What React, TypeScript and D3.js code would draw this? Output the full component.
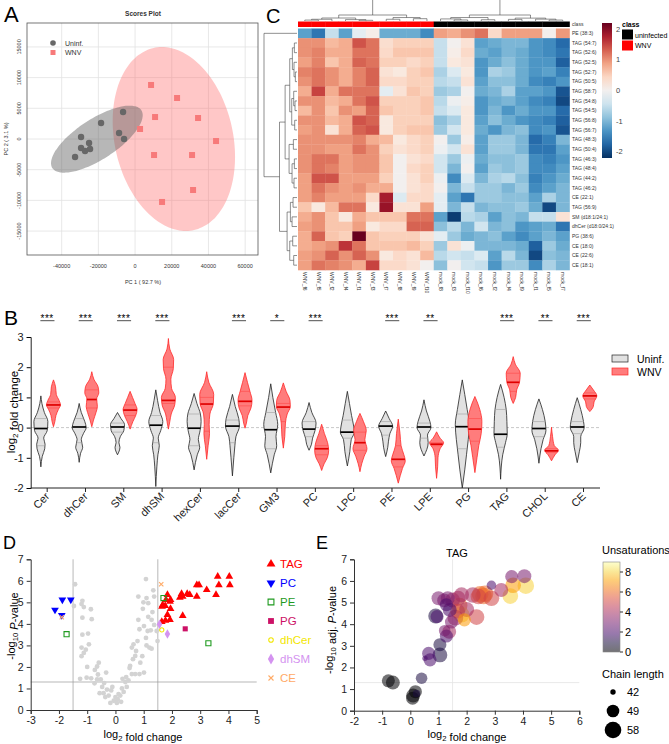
import React, { useEffect, useRef } from "react";
import * as d3 from "d3";

const FONT = "'Liberation Sans', Arial, sans-serif";

// ---------- A: PCA scores ----------
const uninfScores = [
  [-6540, 4400], [-18530, 2600], [-8720, 980], [-5990, 0], [-29430, 330],
  [-25070, -650], [-29430, -1470], [-24520, -1630], [-27250, -1950], [-32700, -2930],
];
const wnvScores = [
  [8720, 8800], [22890, 6680], [10900, 3580], [34330, 3420], [2720, 1630],
  [44140, -330], [10350, -2610], [31060, -2610], [31610, -8310], [14710, -10260],
];
const pcaXTicks = [-40000, -20000, 0, 20000, 40000, 60000];
const pcaYTicks = [15000, 10000, 5000, 0, -5000, -10000, -15000];

// ---------- C: heatmap ----------
const sampleNames = [
  "WNV_f6", "WNV_f5", "WNV_f2", "WNV_f4", "WNV_f1", "WNV_f3", "WNV_f7", "WNV_f8", "WNV_f9", "WNV_f10",
  "mock_f8", "mock_f3", "mock_f10", "mock_f6", "mock_f2", "mock_f4", "mock_f9", "mock_f1", "mock_f5", "mock_f7",
];
const sampleClass = [
  "WNV", "WNV", "WNV", "WNV", "WNV", "WNV", "WNV", "WNV", "WNV", "WNV",
  "uninfected", "uninfected", "uninfected", "uninfected", "uninfected",
  "uninfected", "uninfected", "uninfected", "uninfected", "uninfected",
];
const heatRows = [
  "PE (38:3)", "TAG (54:7)", "TAG (52:6)", "TAG (52:5)", "TAG (52:7)", "TAG (50:5)", "TAG (58:7)",
  "TAG (54:8)", "TAG (54:5)", "TAG (56:8)", "TAG (56:7)", "TAG (48:3)", "TAG (50:4)", "TAG (46:3)",
  "TAG (48:4)", "TAG (44:2)", "TAG (46:2)", "CE (22:1)", "TAG (56:9)", "SM (d18:1/24:1)",
  "dhCer (d18:0/24:1)", "PG (38:6)", "CE (18:0)", "CE (22:6)", "CE (18:1)",
];
const heatValues = [
  [-1.2, -1.6, -0.5, -1.2, -0.2, 0.1, -1.1, -1.1, -1.1, -1.4, 0.9, 0.8, 1.0, 1.2, 0.4, 0.9, 0.9, 0.9, 0.05, 0.95],
  [1.0, 1.0, 0.7, 0.8, 1.4, 1.2, 0.35, 0.5, 0.5, 0.5, -0.5, 0.0, 0.3, -1.2, -1.1, -1.0, -1.0, -1.3, -1.4, -1.7],
  [1.0, 1.1, 0.8, 0.8, 1.2, 1.2, 0.4, 0.6, 0.6, 0.6, -0.5, 0.1, 0.4, -1.1, -1.2, -1.0, -1.1, -1.3, -1.4, -1.6],
  [0.9, 1.1, 0.6, 0.8, 1.3, 1.2, 0.5, 0.5, 0.4, 0.5, -0.5, 0.2, 0.3, -1.3, -1.1, -0.9, -1.1, -1.3, -1.3, -1.8],
  [1.1, 1.2, 1.0, 0.8, 1.1, 1.3, 0.3, 0.2, 0.5, 0.6, -0.7, -0.3, 0.2, -1.3, -0.7, -0.8, -1.1, -1.3, -1.2, -1.5],
  [1.0, 1.2, 1.0, 0.8, 1.1, 1.3, 0.4, 0.4, 0.5, 0.5, -0.6, -0.5, 0.3, -1.2, -0.9, -0.9, -1.1, -1.4, -1.5, -1.3],
  [0.8, 1.5, 0.8, 1.2, 1.2, 1.2, -0.2, 0.3, 0.6, 0.5, -0.8, -0.7, 0.0, -1.1, -1.0, -0.7, -1.2, -1.2, -1.3, -1.9],
  [1.0, 1.0, 0.7, 0.8, 1.2, 1.4, 0.5, 0.5, 0.5, 0.6, -0.6, -0.1, 0.1, -1.3, -1.1, -1.0, -1.2, -1.4, -1.5, -2.0],
  [0.7, 1.0, 0.6, 1.0, 0.9, 1.3, 0.6, 0.5, 0.5, 0.6, -0.5, -0.3, 0.2, -1.3, -1.0, -1.3, -1.1, -1.3, -1.3, -1.7],
  [1.0, 1.0, 0.7, 0.8, 1.4, 1.3, 0.2, 0.5, 0.5, 0.5, -0.9, -0.7, 0.2, -1.2, -0.9, -1.1, -1.3, -1.4, -1.5, -1.8],
  [0.9, 1.0, 0.3, 0.8, 1.3, 1.4, 0.2, 0.5, 0.6, 0.6, -0.8, -0.4, 0.2, -1.1, -1.3, -1.0, -0.9, -1.4, -1.3, -1.9],
  [1.0, 1.0, 1.0, 1.0, 1.1, 0.8, 0.7, 0.2, 0.4, 0.5, 0.0, -0.8, 0.1, -1.2, -0.8, -0.8, -1.0, -1.7, -1.5, -1.0],
  [1.0, 1.0, 0.9, 0.9, 1.2, 1.0, 0.5, 0.3, 0.4, 0.5, -0.1, -0.4, 0.3, -1.2, -0.8, -0.8, -1.0, -1.6, -1.6, -1.2],
  [1.0, 1.2, 1.2, 0.9, 1.0, 1.0, 0.6, 0.0, 0.3, 0.4, -0.4, -0.8, -0.1, -1.1, -0.9, -0.9, -0.8, -1.4, -1.5, -1.3],
  [1.0, 1.2, 1.1, 0.9, 1.0, 1.0, 0.6, 0.0, 0.4, 0.5, -0.4, -1.0, 0.0, -1.2, -0.8, -0.9, -0.8, -1.4, -1.4, -1.2],
  [0.9, 1.4, 1.4, 0.9, 0.9, 0.9, 0.5, 0.0, 0.3, 0.5, -0.1, -1.4, -0.3, -1.0, -0.7, -0.6, -0.9, -1.5, -1.3, -1.1],
  [0.9, 1.2, 1.0, 0.9, 1.0, 0.8, 0.8, 0.0, 0.3, 0.4, 0.0, -1.0, -0.5, -0.8, -0.8, -1.0, -0.8, -1.4, -1.2, -1.0],
  [0.9, 1.1, 0.9, 0.9, 0.9, 0.4, 1.8, -0.3, 0.4, 0.4, -0.2, -1.2, -1.6, -0.8, -0.8, -0.9, -0.9, -1.2, -0.7, -1.0],
  [0.6, 0.2, 0.7, 1.2, 1.2, 0.2, 1.9, 0.3, 0.3, 0.9, -0.2, -1.0, -0.5, -1.0, -0.9, -0.9, -0.8, -1.1, -2.0, -1.0],
  [0.8, 1.0, 0.6, 0.2, 0.8, 0.6, 0.6, 0.6, 1.2, 1.2, -1.2, -2.1, -0.6, -0.7, -1.2, -0.9, -1.0, -0.5, -0.5, 0.3],
  [0.9, 1.0, 0.6, 0.6, 0.9, 0.2, 0.4, 0.4, 1.3, 1.3, -0.9, -0.6, -1.0, -0.4, -1.0, -0.9, -1.3, -1.2, -1.1, -1.6],
  [0.8, 1.3, 0.6, 0.5, 2.2, 0.6, 0.5, 0.5, 0.5, 0.3, -0.2, -0.8, -1.1, -1.0, -0.9, -1.2, -1.4, -1.2, -1.0, -1.2],
  [0.8, 0.9, 1.0, 1.6, 1.2, 0.6, 0.6, 0.6, 0.7, 0.5, -0.8, 0.3, -0.1, -1.0, -1.0, -1.0, -1.1, -1.8, -0.8, -1.1],
  [0.9, 1.0, 1.3, 1.0, 1.3, 1.0, 0.2, 0.4, 0.3, 0.7, -0.6, -0.4, -0.5, -0.3, -1.2, -0.6, -1.0, -2.0, -0.9, -1.0],
  [0.9, 1.2, 1.1, 1.0, 0.8, 1.5, 0.4, 0.4, 0.3, 0.0, -0.9, 0.0, -0.4, -0.5, -1.3, -0.8, -0.8, -1.4, -0.7, -1.0],
];
// clustering trees: [height, left, right], leaves are row / column indices
type Tree = number | [number, Tree, Tree];
const rowTree: Tree = [10, 0, [5.3,
  [3.6,
    [2.2, [1.4, [0.8, 1, 2], [0.9, 3, [0.5, 4, 5]]], [1.6, [1.0, 6, [0.6, 7, 8]], [0.7, 9, 10]]],
    [2.4, [1.1, 11, 12], [1.5, [0.8, 13, 14], [0.9, 15, 16]]]],
  [3.0,
    [2.0, [1.2, 17, 18], [1.5, 19, 20]],
    [2.2, [1.3, 21, 22], [1.0, 23, 24]]]]];
const colTree: Tree = [30,
  [5.2, [2.6, [1.5, [0.8, 0, 1], 2], [1.2, 3, [0.6, 4, 5]]], [3.0, [1.5, 6, 7], [2.0, 8, 9]]],
  [5.2, [3.0, [1.8, 10, [0.9, 11, 12]], [1.1, 13, 14]], [2.5, [1.4, 15, 16], [1.6, 17, [0.8, 18, 19]]]]];

// ---------- B: violins ----------
const lipidClasses = ["Cer", "dhCer", "SM", "dhSM", "hexCer", "lacCer", "GM3", "PC", "LPC", "PE", "LPE", "PG", "TAG", "CHOL", "CE"];
const significance = ["***", "***", "***", "***", "", "***", "*", "***", "", "***", "**", "", "***", "**", "***"];
// density profiles: [log2 FC, relative width]
const uninfProfiles = [
  [[1.05, 0], [0.8, 0.15], [0.5, 0.5], [0.2, 1], [-0.1, 0.9], [-0.35, 0.4], [-0.55, 0.6], [-0.7, 0.55], [-0.95, 0.2], [-1.3, 0]],
  [[0.8, 0], [0.5, 0.3], [0.2, 0.8], [0, 1], [-0.2, 0.6], [-0.4, 0.3], [-0.65, 0.5], [-0.85, 0.2], [-1.15, 0]],
  [[0.5, 0], [0.3, 0.5], [0.1, 1], [-0.1, 0.9], [-0.3, 0.4], [-0.5, 0.2], [-0.65, 0.35], [-0.9, 0]],
  [[1.25, 0], [0.9, 0.25], [0.5, 0.6], [0.2, 1], [-0.1, 0.7], [-0.35, 0.35], [-0.6, 0.5], [-0.9, 0.3], [-1.3, 0.15], [-1.95, 0]],
  [[1.13, 0], [0.8, 0.4], [0.45, 0.9], [0.2, 1], [-0.1, 0.85], [-0.4, 0.6], [-0.65, 0.8], [-0.9, 0.45], [-1.4, 0]],
  [[1.1, 0], [0.7, 0.4], [0.3, 0.9], [0.05, 1], [-0.3, 0.5], [-0.6, 0.35], [-1.0, 0.2], [-1.6, 0]],
  [[1.45, 0], [1.0, 0.3], [0.5, 0.7], [0.1, 1], [-0.3, 0.75], [-0.6, 0.85], [-0.9, 0.5], [-1.5, 0]],
  [[0.83, 0], [0.5, 0.4], [0.15, 1], [-0.1, 0.85], [-0.35, 0.5], [-0.55, 0.35], [-0.75, 0]],
  [[1.2, 0], [0.8, 0.3], [0.4, 0.6], [0.05, 0.9], [-0.15, 1], [-0.4, 0.55], [-0.8, 0.35], [-1.27, 0]],
  [[0.55, 0], [0.3, 0.5], [0.05, 1], [-0.2, 0.6], [-0.45, 0.4], [-0.65, 0.3], [-0.96, 0]],
  [[0.92, 0], [0.55, 0.35], [0.2, 0.85], [0, 1], [-0.25, 0.5], [-0.5, 0.6], [-0.94, 0]],
  [[1.58, 0], [1.1, 0.35], [0.6, 0.7], [0.1, 1], [-0.4, 0.85], [-0.9, 0.6], [-1.4, 0.35], [-2.0, 0]],
  [[1.43, 0], [1.0, 0.5], [0.6, 0.8], [0.2, 0.9], [-0.2, 0.95], [-0.5, 0.7], [-0.9, 0.3], [-1.71, 0]],
  [[0.95, 0], [0.6, 0.5], [0.2, 0.9], [-0.1, 1], [-0.4, 0.6], [-0.7, 0.3], [-1.18, 0]],
  [[0.99, 0], [0.6, 0.5], [0.2, 0.9], [0, 1], [-0.3, 0.5], [-0.5, 0.5], [-0.8, 0.3], [-1.16, 0]],
];
const uninfMedians = [-0.03, 0.02, 0.02, 0.08, -0.02, 0.05, -0.07, -0.05, -0.15, 0.05, 0.02, 0.03, -0.22, -0.03, 0.02];
const uninfQuartiles = [[0.3, -0.6], [0.3, -0.5], [0.15, -0.15], [0.4, -0.5], [0.45, -0.6], [0.25, -0.5], [0.5, -0.7], [0.2, -0.3],
  [0.25, -0.35], [0.2, -0.25], [0.15, -0.35], [0.45, -0.7], [0.6, -0.65], [0.2, -0.3], [0.2, -0.2]];
const wnvProfiles = [
  [[1.58, 0], [1.35, 0.3], [1.1, 0.4], [0.9, 0.8], [0.75, 1], [0.6, 0.7], [0.4, 0.35], [0.2, 0.2], [0.03, 0]],
  [[1.85, 0], [1.6, 0.3], [1.35, 0.9], [1.15, 1], [0.95, 0.7], [0.7, 0.8], [0.5, 0.6], [0.25, 0.25], [0.03, 0]],
  [[1.2, 0], [1.0, 0.35], [0.8, 0.7], [0.6, 1], [0.4, 0.8], [0.2, 0.4], [-0.05, 0]],
  [[2.95, 0], [2.6, 0.2], [2.25, 0.75], [1.95, 0.7], [1.6, 0.35], [1.3, 0.45], [1.0, 1], [0.75, 0.9], [0.45, 0.4], [0.2, 0.2], [-0.05, 0]],
  [[1.85, 0], [1.5, 0.3], [1.1, 1], [0.8, 0.95], [0.45, 0.45], [0.1, 0.35], [-0.2, 0.4], [-0.6, 0.2], [-1.05, 0]],
  [[1.82, 0], [1.5, 0.35], [1.2, 0.7], [0.9, 1], [0.65, 0.85], [0.4, 0.4], [0.15, 0.2], [-0.02, 0]],
  [[1.48, 0], [1.2, 0.4], [0.9, 0.95], [0.7, 1], [0.45, 0.55], [0.15, 0.3], [-0.3, 0.2], [-0.68, 0]],
  [[0.11, 0], [-0.2, 0.4], [-0.5, 0.85], [-0.75, 1], [-1.0, 0.8], [-1.2, 0.35], [-1.42, 0]],
  [[0.47, 0], [0.2, 0.5], [-0.1, 0.9], [-0.4, 0.7], [-0.7, 1], [-0.95, 0.6], [-1.2, 0.25], [-1.46, 0]],
  [[0.28, 0], [-0.2, 0.25], [-0.6, 0.4], [-0.9, 0.8], [-1.1, 1], [-1.35, 0.6], [-1.84, 0]],
  [[-0.14, 0], [-0.35, 0.5], [-0.5, 1], [-0.7, 0.5], [-1.0, 0.2], [-1.3, 0.15], [-1.68, 0]],
  [[1.03, 0], [0.6, 0.7], [0.2, 1], [-0.2, 0.9], [-0.6, 0.55], [-1.0, 0.3], [-1.49, 0]],
  [[2.35, 0], [2.1, 0.3], [1.8, 1], [1.5, 0.9], [1.25, 0.5], [1.0, 0.35], [0.8, 0]],
  [[0.01, 0], [-0.3, 0.15], [-0.6, 0.4], [-0.75, 1], [-0.9, 0.5], [-1.1, 0]],
  [[1.41, 0], [1.25, 0.5], [1.05, 1], [0.85, 0.6], [0.7, 0.5], [0.53, 0]],
];
const wnvMedians = [0.75, 0.93, 0.58, 0.9, 0.78, 0.87, 0.68, -0.7, -0.5, -1.05, -0.55, -0.05, 1.5, -0.77, 1.05];
const wnvQuartiles = [[0.85, 0.65], [1.25, 0.65], [0.75, 0.4], [2.0, 0.8], [1.0, -0.12], [1.2, 0.72], [0.8, 0.2], [-0.6, -0.9],
  [-0.15, -0.75], [-0.6, -1.3], [-0.5, -0.6], [0.3, -0.45], [1.8, 1.2], [-0.7, -0.82], [1.15, 0.95]];

// ---------- D: volcano ----------
const otherVolcano = [
  [-1.43, 5.84], [-1.47, 4.83], [-1.17, 5.07], [-1.2, 4.92], [-1.12, 4.78], [-0.87, 4.68], [-1.17, 4.29], [-0.84, 4.22],
  [-1.17, 3.5], [-0.97, 3.55], [-1.2, 2.9], [-0.94, 3.05], [-1.12, 2.65], [-1.2, 2.5], [-1.05, 2.8], [-0.59, 2.2],
  [-0.65, 2.02], [-0.73, 1.86], [-1.02, 1.5], [-0.86, 1.47], [-0.65, 1.42], [-0.74, 1.24], [-0.52, 1.42], [-0.33, 1.74],
  [-0.47, 1.07], [-0.3, 0.95], [-0.42, 0.78], [-0.15, 0.91], [-0.24, 0.67], [0.0, 0.6], [-0.06, 0.43], [0.08, 0.5],
  [-0.18, 0.33], [0.17, 0.67], [0.29, 0.84], [0.23, 1.0], [0.4, 1.07], [0.46, 1.38], [0.38, 1.53], [0.35, 1.3],
  [0.58, 1.67], [0.52, 2.05], [0.7, 1.67], [0.62, 2.36], [0.7, 2.51], [0.58, 2.9], [0.64, 3.05], [0.78, 3.2],
  [0.73, 2.74], [0.88, 2.2], [1.01, 1.74], [0.85, 1.67], [1.1, 3.0], [1.2, 2.9], [1.28, 2.85], [1.08, 3.35],
  [1.14, 3.67], [1.01, 3.9], [0.85, 3.75], [0.81, 4.19], [0.97, 4.7], [0.99, 5.0], [1.1, 5.2], [1.16, 4.96],
  [1.08, 6.08], [1.34, 5.56], [1.37, 5.27], [1.16, 4.33], [1.28, 4.19], [1.31, 4.55], [1.37, 3.95], [0.81, 5.27],
  [1.46, 3.67], [1.49, 3.2], [-0.56, 0.78], [-0.36, 0.6], [0.05, 0.33], [0.2, 0.38], [0.11, 0.74], [-0.11, 1.07],
  [-0.62, 1.65], [-0.4, 1.25], [0.25, 1.45], [0.5, 1.95], [0.95, 2.5], [1.25, 3.7], [-1.25, 1.45], [-1.0, 2.0],
];
const tagVolcano = [
  [3.62, 6.2], [4.03, 6.2], [3.66, 5.81], [4.05, 5.81], [2.88, 5.81], [2.96, 5.81], [3.23, 5.58], [3.56, 5.35],
  [2.88, 5.27], [2.34, 5.4], [2.38, 5.27], [2.28, 5.22], [2.54, 5.4], [2.63, 5.35], [1.84, 5.35], [1.79, 5.12],
  [1.93, 5.04], [1.95, 5.12], [1.67, 4.88], [1.76, 4.84], [1.65, 4.81], [1.95, 4.7], [1.84, 4.42], [1.93, 4.19],
  [1.77, 4.16], [2.38, 4.38], [1.64, 4.1],
];
const pcVolcano = [[-2.14, 4.65], [-1.88, 5.12], [-1.58, 5.12], [-1.9, 4.4]];
const peVolcano = [[-1.73, 3.52], [3.29, 3.1], [1.7, 5.2]];
const pgVolcano = [[2.47, 3.77]];
const dhCerVolcano = [[1.64, 3.72]];
const dhSMVolcano = [[1.56, 3.98], [1.84, 3.53]];
const ceVolcano = [[1.62, 5.84], [-1.9, 4.31]];

// ---------- E: TAG bubbles ----------
const bubbleFold = [-0.78, -0.62, 0.4, 0.18, 0.1, 0.08, 0.22, 1.05, 1.05, 0.65, 0.7, 0.52, 0.9, 0.95, 1.0, 1.28, 1.33, 1.5, 1.4, 1.46,
  1.38, 1.28, 1.22, 1.7, 1.82, 1.75, 1.68, 1.82, 1.92, 2.0, 2.35, 2.22, 2.42, 2.48, 2.6, 2.65, 2.88, 2.88, 3.23, 3.55, 3.6, 3.65,
  4.05, 4.1, 1.2, 1.6];
const bubbleLogP = [1.38, 1.3, 1.5, 0.88, 0.7, 0.58, 0.8, 2.58, 3.05, 2.65, 2.35, 2.42, 4.38, 4.35, 5.2, 4.9, 5.2, 5.12, 4.66, 4.1,
  3.65, 3.45, 3.7, 5.2, 5.36, 4.86, 4.6, 4.44, 4.2, 4.68, 4.33, 5.35, 5.28, 5.38, 5.3, 5.4, 5.2, 5.8, 5.58, 5.3, 6.2, 5.8,
  6.22, 5.78, 5.1, 4.3];
const bubbleChain = [50, 52, 48, 50, 52, 50, 44, 54, 50, 50, 50, 42, 54, 50, 52, 50, 52, 54, 52, 50,
  52, 50, 48, 54, 54, 56, 54, 56, 50, 54, 56, 56, 56, 58, 58, 58, 56, 46, 52, 56, 50, 56,
  52, 58, 52, 56];
const bubbleUnsat = [0, 0, 1, 0, 0, 0, 1, 1, 1, 2, 2, 2, 1, 2, 3, 2, 3, 4, 2, 3,
  4, 2, 3, 4, 4, 6, 5, 8, 7, 4, 5, 4, 5, 6, 6, 6, 5, 2, 4, 8, 3, 7,
  3, 8, 3, 4];
const chainLegend = [42, 49, 58];
const unsatTicks = [0, 2, 4, 6, 8];

type G = d3.Selection<SVGGElement, unknown, null, undefined>;

function panelLetter(g: G, x: number, y: number, t: string, size: number) {
  g.append("text").attr("x", x).attr("y", y).attr("font-size", size).attr("font-family", FONT).text(t);
}

// text with a log10 subscript, optional italic P
function logLabel(g: G, x: number, y: number, rotate: boolean, parts: string[], size: number) {
  const t = g.append("text").attr("font-family", FONT).attr("font-size", size).attr("text-anchor", "middle")
    .attr("transform", `translate(${x},${y})${rotate ? " rotate(-90)" : ""}`);
  parts.forEach((p) => {
    if (p.startsWith("_")) {
      t.append("tspan").attr("font-size", size * 0.7).attr("dy", size * 0.3).text(p.slice(1));
      t.append("tspan").attr("dy", -size * 0.3).text("");
    } else if (p.startsWith("!")) {
      t.append("tspan").attr("font-style", "italic").text(p.slice(1));
    } else {
      t.append("tspan").text(p);
    }
  });
}

function confEllipse(pts: number[][]) {
  const n = pts.length;
  const mx = d3.mean(pts, (p) => p[0])!;
  const my = d3.mean(pts, (p) => p[1])!;
  let sxx = 0, syy = 0, sxy = 0;
  pts.forEach(([px, py]) => {
    sxx += (px - mx) ** 2;
    syy += (py - my) ** 2;
    sxy += (px - mx) * (py - my);
  });
  sxx /= n - 1; syy /= n - 1; sxy /= n - 1;
  const tr = sxx + syy, det = sxx * syy - sxy * sxy;
  const disc = Math.sqrt(tr * tr / 4 - det);
  const l1 = tr / 2 + disc, l2 = tr / 2 - disc;
  const th = 0.5 * Math.atan2(2 * sxy, sxx - syy);
  const k = Math.sqrt(5.991); // 95% region
  return d3.range(0, 360, 4).map((deg) => {
    const t = (deg * Math.PI) / 180;
    const a = k * Math.sqrt(l1) * Math.cos(t), b = k * Math.sqrt(l2) * Math.sin(t);
    return [mx + a * Math.cos(th) - b * Math.sin(th), my + a * Math.sin(th) + b * Math.cos(th)];
  });
}

function drawScores(g: G) {
  const x = d3.scaleLinear().domain([-58900, 67000]).range([27, 258]);
  const y = d3.scaleLinear().domain([-18900, 18900]).range([255, 23]);
  panelLetter(g, 4, 22, "A", 22);
  g.append("text").attr("x", 143).attr("y", 16).attr("text-anchor", "middle").attr("font-size", 6.5)
    .attr("font-weight", "bold").attr("font-family", FONT).attr("fill", "#333").text("Scores Plot");

  g.selectAll(".gx").data(pcaXTicks).join("line").attr("x1", (d) => x(d)).attr("x2", (d) => x(d))
    .attr("y1", 23).attr("y2", 255).attr("stroke", "#e2e2e2").attr("stroke-width", 0.8);
  g.selectAll(".gy").data(pcaYTicks).join("line").attr("y1", (d) => y(d)).attr("y2", (d) => y(d))
    .attr("x1", 27).attr("x2", 258).attr("stroke", "#e2e2e2").attr("stroke-width", 0.8);

  const line = d3.line<number[]>().x((d) => x(d[0])).y((d) => y(d[1])).curve(d3.curveCardinalClosed);
  g.append("path").attr("d", line(confEllipse(wnvScores))).attr("fill", "rgba(255,100,100,0.36)");
  g.append("path").attr("d", line(confEllipse(uninfScores))).attr("fill", "rgba(95,95,95,0.45)");

  g.selectAll(".pu").data(uninfScores).join("circle").attr("cx", (d) => x(d[0])).attr("cy", (d) => y(d[1]))
    .attr("r", 3.2).attr("fill", "#676767");
  g.selectAll(".pw").data(wnvScores).join("rect").attr("x", (d) => x(d[0]) - 3).attr("y", (d) => y(d[1]) - 3)
    .attr("width", 6).attr("height", 6).attr("fill", "#f77a7a");

  g.append("rect").attr("x", 27).attr("y", 23).attr("width", 231).attr("height", 232)
    .attr("fill", "none").attr("stroke", "#555").attr("stroke-width", 0.8);

  g.selectAll(".tx").data(pcaXTicks).join("text").attr("x", (d) => x(d)).attr("y", 268).attr("text-anchor", "middle")
    .attr("font-size", 5.5).attr("font-family", FONT).attr("fill", "#333").text((d) => String(d));
  g.selectAll(".ty").data(pcaYTicks).join("text").attr("text-anchor", "middle")
    .attr("transform", (d) => `translate(21,${y(d)}) rotate(-90)`)
    .attr("font-size", 5.5).attr("font-family", FONT).attr("fill", "#333").text((d) => String(d));
  g.append("text").attr("x", 143).attr("y", 284).attr("text-anchor", "middle").attr("font-size", 5.5)
    .attr("font-family", FONT).attr("fill", "#333").text("PC 1 ( 92.7 %)");
  g.append("text").attr("transform", `translate(8,${y(0)}) rotate(-90)`).attr("text-anchor", "middle")
    .attr("font-size", 5.5).attr("font-family", FONT).attr("fill", "#333").text("PC 2 ( 3.1 %)");

  g.append("circle").attr("cx", 53).attr("cy", 43).attr("r", 2.8).attr("fill", "#676767");
  g.append("rect").attr("x", 50.5).attr("y", 50).attr("width", 5).attr("height", 5).attr("fill", "#f77a7a");
  g.append("text").attr("x", 65).attr("y", 45.5).attr("font-size", 7).attr("font-family", FONT).attr("fill", "#333").text("Uninf.");
  g.append("text").attr("x", 65).attr("y", 55).attr("font-size", 7).attr("font-family", FONT).attr("fill", "#333").text("WNV");
}

function dendro(tree: Tree, leafPos: (i: number) => number) {
  const segs: [number, number, number, number][] = [];
  const walk = (n: Tree): { p: number; h: number } => {
    if (typeof n === "number") return { p: leafPos(n), h: 0 };
    const [h, a, b] = n;
    const A = walk(a), B = walk(b);
    segs.push([A.p, A.h, A.p, h], [B.p, B.h, B.p, h], [A.p, h, B.p, h]);
    return { p: (A.p + B.p) / 2, h };
  };
  walk(tree);
  return segs;
}

function drawHeatmap(g: G) {
  const x = d3.scaleBand<number>().domain(d3.range(sampleNames.length)).range([298, 569.5]);
  const y = d3.scaleBand<number>().domain(d3.range(heatRows.length)).range([28.5, 270]);
  const color = d3.scaleSequential(d3.interpolateRdBu).domain([2.2, -2.2]);
  panelLetter(g, 266, 23, "C", 20);

  heatValues.forEach((row, r) => {
    g.selectAll(`.c${r}`).data(row).join("rect").attr("x", (_, c) => x(c)!).attr("y", y(r)!)
      .attr("width", x.bandwidth() + 0.3).attr("height", y.bandwidth() + 0.3).attr("fill", (d) => color(d));
  });
  g.selectAll(".cls").data(sampleClass).join("rect").attr("x", (_, c) => x(c)!).attr("y", 21.5)
    .attr("width", x.bandwidth() + 0.3).attr("height", 5.5).attr("fill", (d) => (d === "WNV" ? "#ff0000" : "#000"));

  const lab = { "font-size": 5, "font-family": FONT, fill: "#333" };
  g.append("text").attr("x", 572).attr("y", 26).attr("font-size", 5).attr("font-family", FONT).attr("fill", "#333").text("class");
  g.selectAll(".rl").data(heatRows).join("text").attr("x", 572).attr("y", (_, i) => y(i)! + y.bandwidth() / 2 + 1.8)
    .attr("font-size", lab["font-size"]).attr("font-family", FONT).attr("fill", lab.fill).text((d) => d);
  g.selectAll(".cl").data(sampleNames).join("text")
    .attr("transform", (_, i) => `translate(${x(i)! + x.bandwidth() / 2 - 1.8},272) rotate(90)`)
    .attr("font-size", 5).attr("font-family", FONT).attr("fill", "#333").text((d) => d);

  // row dendrogram on the left
  const hx = d3.scaleLinear().domain([0, 10]).range([297, 264]);
  const rseg = dendro(rowTree, (i) => y(i)! + y.bandwidth() / 2);
  g.selectAll(".rd").data(rseg).join("line").attr("x1", (s) => hx(s[1])).attr("y1", (s) => s[0])
    .attr("x2", (s) => hx(s[3])).attr("y2", (s) => s[2]).attr("stroke", "#444").attr("stroke-width", 0.6);
  // column dendrogram on top
  const hy = d3.scaleLinear().domain([0, 5.2]).range([21, 15]);
  const cseg = dendro(colTree, (i) => x(i)! + x.bandwidth() / 2);
  g.selectAll(".cd").data(cseg).join("line").attr("x1", (s) => s[0]).attr("y1", (s) => hy(s[1]))
    .attr("x2", (s) => s[2]).attr("y2", (s) => hy(s[3])).attr("stroke", "#444").attr("stroke-width", 0.6);

  // colour key
  const ky = d3.scaleLinear().domain([2.2, -2.2]).range([23, 158]);
  const defs = g.append("defs");
  const grad = defs.append("linearGradient").attr("id", "heatkey").attr("x1", 0).attr("x2", 0).attr("y1", 0).attr("y2", 1);
  d3.range(0, 1.0001, 0.1).forEach((t) => {
    grad.append("stop").attr("offset", t).attr("stop-color", color(2.2 - 4.4 * t));
  });
  g.append("rect").attr("x", 602).attr("y", 23).attr("width", 10).attr("height", 135).attr("fill", "url(#heatkey)");
  g.selectAll(".kt").data([2, 1, 0, -1, -2]).join("text").attr("x", 616).attr("y", (d) => ky(d) + 2.5)
    .attr("font-size", 7.5).attr("font-family", FONT).attr("fill", "#444").text((d) => String(d));

  g.append("text").attr("x", 622).attr("y", 27).attr("font-size", 7).attr("font-weight", "bold")
    .attr("font-family", FONT).text("class");
  g.append("rect").attr("x", 622).attr("y", 29.5).attr("width", 11).attr("height", 10).attr("fill", "#000");
  g.append("rect").attr("x", 622).attr("y", 40.5).attr("width", 11).attr("height", 10).attr("fill", "#ff0000");
  g.append("text").attr("x", 635).attr("y", 37.5).attr("font-size", 7).attr("font-family", FONT).text("uninfected");
  g.append("text").attr("x", 635).attr("y", 48).attr("font-size", 7).attr("font-family", FONT).text("WNV");
}

function widthAt(profile: number[][], v: number) {
  for (let i = 0; i < profile.length - 1; i++) {
    const [v0, w0] = profile[i], [v1, w1] = profile[i + 1];
    if (v <= v0 && v >= v1) return w0 + ((v0 - v) / (v0 - v1)) * (w1 - w0);
  }
  return 0;
}

function drawViolins(g: G) {
  const y = d3.scaleLinear().domain([-2, 3]).range([488, 337]);
  const x = d3.scalePoint<string>().domain(lipidClasses).range([30.7, 600]).padding(0.43);
  const maxW = 7, off = 6.3;
  panelLetter(g, 4, 325, "B", 21);

  g.append("line").attr("x1", 31).attr("x2", 600).attr("y1", y(0)).attr("y2", y(0))
    .attr("stroke", "#c8c8c8").attr("stroke-width", 1).attr("stroke-dasharray", "3,2");

  const groups = [
    { prof: uninfProfiles, med: uninfMedians, q: uninfQuartiles, dx: -off, fill: "#e1e1e1", stroke: "#222", mc: "#000", qc: "#a0a0a0" },
    { prof: wnvProfiles, med: wnvMedians, q: wnvQuartiles, dx: off, fill: "#ff7c7c", stroke: "#ff2a2a", mc: "#e00000", qc: "#ff4a4a" },
  ];
  groups.forEach((gr) => {
    lipidClasses.forEach((cls, i) => {
      const cx = x(cls)! + gr.dx;
      const prof = gr.prof[i];
      const area = d3.area<number[]>().y((d) => y(d[0])).x0((d) => cx - d[1] * maxW).x1((d) => cx + d[1] * maxW)
        .curve(d3.curveMonotoneY);
      g.append("path").attr("d", area(prof)).attr("fill", gr.fill).attr("stroke", gr.stroke).attr("stroke-width", 0.8);
      gr.q[i].forEach((qv) => {
        const w = widthAt(prof, qv) * maxW;
        g.append("line").attr("x1", cx - w).attr("x2", cx + w).attr("y1", y(qv)).attr("y2", y(qv))
          .attr("stroke", gr.qc).attr("stroke-width", 0.6);
      });
      const wm = widthAt(prof, gr.med[i]) * maxW;
      g.append("line").attr("x1", cx - wm).attr("x2", cx + wm).attr("y1", y(gr.med[i])).attr("y2", y(gr.med[i]))
        .attr("stroke", gr.mc).attr("stroke-width", 1.7);
    });
  });

  // significance marks
  lipidClasses.forEach((cls, i) => {
    if (!significance[i]) return;
    const cx = x(cls)!;
    g.append("line").attr("x1", cx - off - 0.5).attr("x2", cx + off + 1).attr("y1", 320.7).attr("y2", 320.7)
      .attr("stroke", "#222").attr("stroke-width", 0.8);
    g.append("text").attr("x", cx).attr("y", 322).attr("text-anchor", "middle").attr("font-size", 10)
      .attr("font-family", FONT).attr("letter-spacing", 0.5).text(significance[i]);
  });

  const ay = g.append("g").attr("transform", "translate(30.7,0)")
    .call(d3.axisLeft(y).tickValues([-2, -1, 0, 1, 2, 3]).tickSize(4).tickFormat((d) => String(d)));
  ay.selectAll("text").attr("font-size", 11).attr("font-family", FONT).attr("fill", "#222");
  ay.select(".domain").attr("stroke", "#222");

  g.append("line").attr("x1", 30.7).attr("x2", 600).attr("y1", 488).attr("y2", 488).attr("stroke", "#222");
  lipidClasses.forEach((cls) => {
    const cx = x(cls)!;
    g.append("line").attr("x1", cx).attr("x2", cx).attr("y1", 488).attr("y2", 492).attr("stroke", "#222");
    g.append("text").attr("text-anchor", "end").attr("transform", `translate(${cx + 3},${497}) rotate(-45)`)
      .attr("font-size", 11).attr("font-family", FONT).attr("fill", "#222").text(cls);
  });

  logLabel(g, 15, 412, true, ["log", "_2", " fold change"], 11.5);

  g.append("rect").attr("x", 612).attr("y", 355).attr("width", 16).attr("height", 7).attr("fill", "#e1e1e1").attr("stroke", "#222").attr("stroke-width", 0.7);
  g.append("rect").attr("x", 612).attr("y", 368).attr("width", 16).attr("height", 7).attr("fill", "#ff7c7c").attr("stroke", "#ff2a2a").attr("stroke-width", 0.7);
  g.append("text").attr("x", 637).attr("y", 363).attr("font-size", 10.5).attr("font-family", FONT).text("Uninf.");
  g.append("text").attr("x", 637).attr("y", 376).attr("font-size", 10.5).attr("font-family", FONT).text("WNV");
}

function styleAxis(a: G) {
  a.selectAll("text").attr("font-size", 10.5).attr("font-family", FONT).attr("fill", "#222");
  a.select(".domain").attr("stroke", "#333");
  a.selectAll(".tick line").attr("stroke", "#333");
}

function drawVolcano(g: G) {
  const x = d3.scaleLinear().domain([-3, 5]).range([30.7, 256.7]);
  const y = d3.scaleLinear().domain([0, 7]).range([710, 559.3]);
  panelLetter(g, 3, 549, "D", 18);

  [-1.5, 1.5].forEach((v) => g.append("line").attr("x1", x(v)).attr("x2", x(v)).attr("y1", y(0)).attr("y2", y(7))
    .attr("stroke", "#999").attr("stroke-width", 0.7));
  g.append("line").attr("x1", x(-3)).attr("x2", x(5)).attr("y1", y(1.3)).attr("y2", y(1.3))
    .attr("stroke", "#999").attr("stroke-width", 0.7);

  g.selectAll(".ov").data(otherVolcano).join("circle").attr("cx", (d) => x(d[0])).attr("cy", (d) => y(d[1]))
    .attr("r", 2.4).attr("fill", "#d3d3d3");

  const sets = [
    { name: "TAG", pts: tagVolcano, color: "#ff0000", sym: d3.symbolTriangle, rot: 0, open: false },
    { name: "PC", pts: pcVolcano, color: "#0000ff", sym: d3.symbolTriangle, rot: 180, open: false },
    { name: "PE", pts: peVolcano, color: "#1f9a1f", sym: d3.symbolSquare, rot: 0, open: true },
    { name: "PG", pts: pgVolcano, color: "#cc1166", sym: d3.symbolSquare, rot: 0, open: false },
    { name: "dhCer", pts: dhCerVolcano, color: "#f2e600", sym: d3.symbolCircle, rot: 0, open: true },
    { name: "dhSM", pts: dhSMVolcano, color: "#d493f0", sym: d3.symbolDiamond, rot: 0, open: false },
    { name: "CE", pts: ceVolcano, color: "#ffaa66", sym: d3.symbolTimes, rot: 0, open: true },
  ];
  const mark = (sel: d3.Selection<any, any, any, any>, s: (typeof sets)[0], size: number) => {
    const open = s.open;
    sel.attr("d", d3.symbol(s.sym, size)()!).attr("fill", open ? "none" : s.color)
      .attr("stroke", open ? s.color : "none").attr("stroke-width", open ? 1.1 : 0);
  };
  sets.forEach((s) => {
    s.pts.forEach((p) => {
      const path = g.append("path").attr("transform", `translate(${x(p[0])},${y(p[1])}) rotate(${s.rot})`);
      mark(path, s, s.sym === d3.symbolCircle ? 14 : s.sym === d3.symbolTimes ? 14 : 26);
    });
  });
  sets.forEach((s, i) => {
    const ly = 564 + i * 19;
    const path = g.append("path").attr("transform", `translate(271,${ly}) rotate(${s.rot})`);
    mark(path, s, s.sym === d3.symbolCircle ? 16 : s.sym === d3.symbolTimes ? 18 : 34);
    g.append("text").attr("x", 280).attr("y", ly + 4).attr("font-size", 11.5).attr("font-family", FONT)
      .attr("fill", s.color).text(s.name);
  });

  const ax = g.append("g").attr("transform", "translate(0,710)")
    .call(d3.axisBottom(x).tickValues(d3.range(-3, 6)).tickSize(4).tickFormat((d) => String(d)));
  styleAxis(ax);
  const ay = g.append("g").attr("transform", "translate(30.7,0)")
    .call(d3.axisLeft(y).tickValues(d3.range(0, 8)).tickSize(4).tickFormat((d) => String(d)));
  styleAxis(ay);

  logLabel(g, 143, 738, false, ["log", "_2", " fold change"], 11);
  logLabel(g, 15, 626, true, ["-log", "_10", " ", "!P", "-value"], 11);
}

function drawBubbles(g: G) {
  const x = d3.scaleLinear().domain([-2, 6]).range([354, 579.3]);
  const y = d3.scaleLinear().domain([0, 7]).range([710.7, 559.3]);
  const r = d3.scaleLinear().domain([42, 49, 58]).range([2.7, 6.3, 8.3]);
  const col = d3.scaleSequential(d3.interpolateInferno).domain([0, 9]);
  panelLetter(g, 316, 549, "E", 18);

  g.append("text").attr("x", 457).attr("y", 557).attr("text-anchor", "middle").attr("font-size", 11)
    .attr("font-family", FONT).text("TAG");
  g.append("line").attr("x1", x(1.5)).attr("x2", x(1.5)).attr("y1", y(0)).attr("y2", y(7))
    .attr("stroke", "#e4e4e4").attr("stroke-width", 0.8);
  g.append("line").attr("x1", x(-2)).attr("x2", x(6)).attr("y1", y(1.3)).attr("y2", y(1.3))
    .attr("stroke", "#e4e4e4").attr("stroke-width", 0.8);

  const idx = d3.range(bubbleFold.length).sort((a, b) => bubbleChain[b] - bubbleChain[a]);
  g.selectAll(".bb").data(idx).join("circle").attr("cx", (i) => x(bubbleFold[i])).attr("cy", (i) => y(bubbleLogP[i]))
    .attr("r", (i) => r(bubbleChain[i])).attr("fill", (i) => col(bubbleUnsat[i])).attr("fill-opacity", 0.55);

  const ax = g.append("g").attr("transform", "translate(0,710.7)")
    .call(d3.axisBottom(x).tickValues(d3.range(-2, 7)).tickSize(4).tickFormat((d) => String(d)));
  styleAxis(ax);
  const ay = g.append("g").attr("transform", "translate(354,0)")
    .call(d3.axisLeft(y).tickValues(d3.range(0, 8)).tickSize(4).tickFormat((d) => String(d)));
  styleAxis(ay);

  logLabel(g, 467, 738, false, ["log", "_2", " fold change"], 11);
  logLabel(g, 333, 630, true, ["-log", "_10", " adj. ", "!P", "-value"], 11);

  // colour bar
  const cy = d3.scaleLinear().domain([0, 9]).range([652, 562]);
  const grad = g.append("defs").append("linearGradient").attr("id", "unsat").attr("x1", 0).attr("x2", 0).attr("y1", 1).attr("y2", 0);
  d3.range(0, 1.0001, 0.1).forEach((t) => grad.append("stop").attr("offset", t).attr("stop-color", col(t * 9)));
  g.append("text").attr("x", 602).attr("y", 554).attr("font-size", 11).attr("font-family", FONT).text("Unsaturations");
  g.append("rect").attr("x", 603).attr("y", 562).attr("width", 17).attr("height", 90).attr("fill", "url(#unsat)")
    .attr("fill-opacity", 0.55).attr("stroke", "#888").attr("stroke-width", 0.6);
  unsatTicks.forEach((t) => {
    g.append("line").attr("x1", 620).attr("x2", 623).attr("y1", cy(t)).attr("y2", cy(t)).attr("stroke", "#333");
    g.append("text").attr("x", 625).attr("y", cy(t) + 4).attr("font-size", 11).attr("font-family", FONT).text(String(t));
  });

  g.append("text").attr("x", 602).attr("y", 678).attr("font-size", 11).attr("font-family", FONT).text("Chain length");
  const ly = d3.scalePoint<number>().domain(chainLegend).range([692, 730]);
  chainLegend.forEach((c) => {
    g.append("circle").attr("cx", 613).attr("cy", ly(c)!).attr("r", r(c)).attr("fill", "#000");
    g.append("text").attr("x", 627).attr("y", ly(c)! + 4).attr("font-size", 11).attr("font-family", FONT).text(String(c));
  });
}

export default function App() {
  const svgRef = useRef<SVGSVGElement>(null);

  useEffect(() => {
    document.body.style.margin = "0";
    const svg = d3.select(svgRef.current);
    svg.selectAll("*").remove(); // clear previous renders
    drawScores(svg.append("g"));
    drawHeatmap(svg.append("g"));
    drawViolins(svg.append("g"));
    drawVolcano(svg.append("g"));
    drawBubbles(svg.append("g"));
  }, []);

  return <svg ref={svgRef} width={669} height={744} style={{ display: "block", background: "#fff" }} />;
}
